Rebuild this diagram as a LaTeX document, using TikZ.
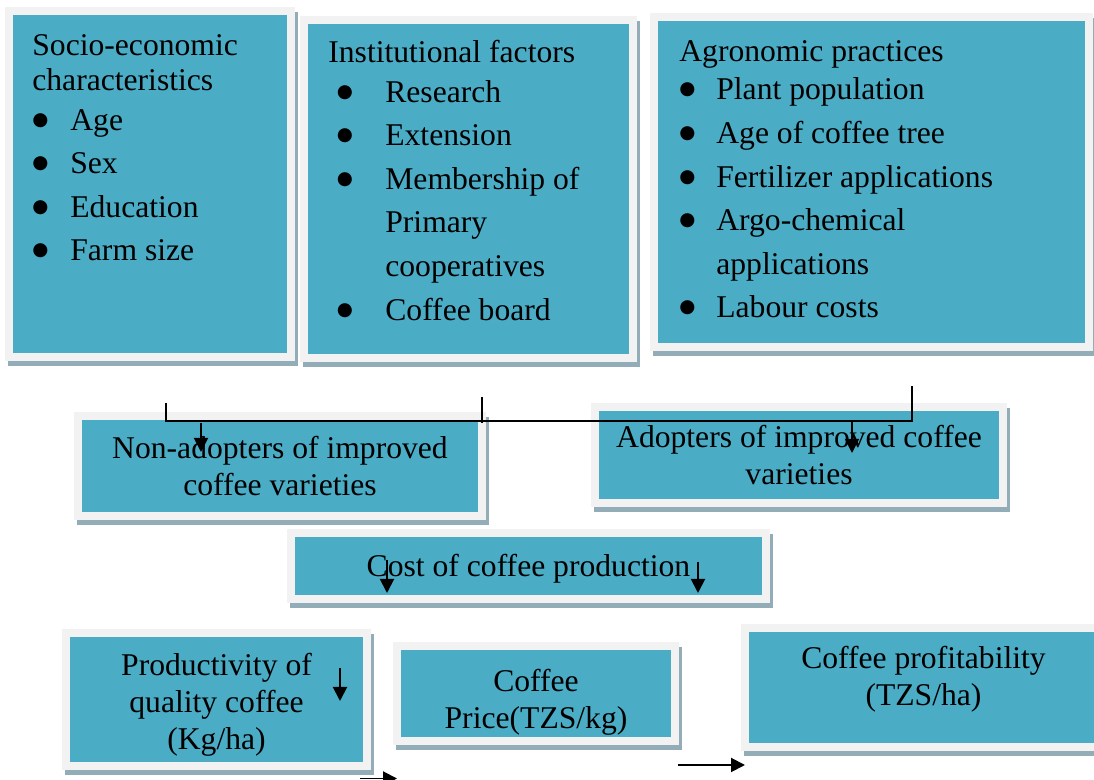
\documentclass[tikz,border=0pt]{standalone}
\usepackage{fontspec}
\setmainfont{Liberation Serif}
\newfontfamily\simboli{DejaVu Sans}
\usetikzlibrary{arrows.meta, shadows}

\definecolor{acqua}{HTML}{4BACC6}
\definecolor{cornice}{HTML}{F2F2F2}
\definecolor{ombra}{HTML}{93ADB8}

% pallino pieno delle voci
\newcommand{\pallino}{\raisebox{0.1cm}{\simboli\fontsize{10.5}{10.5}\selectfont ●}}
% voce di elenco: [scarto del pallino]{rientro}{testo}
\newcommand{\voce}[3][0cm]{\makebox[#2][l]{\hspace*{#1}\pallino}#3}

\begin{document}
\begin{tikzpicture}[
  font=\fontsize{18}{21}\selectfont,
  riquadro/.style={fill=acqua, draw=cornice, line width=0.16cm, align=center,
                   inner sep=2pt,
                   general shadow={fill=ombra, draw=ombra, line width=0.16cm,
                                   shadow xshift=0.06cm, shadow yshift=-0.1cm}},
  elenco/.style={anchor=north west, align=left, inner sep=0pt,
                 font=\fontsize{18}{24.8}\selectfont},
  collegamento/.style={draw=black, line width=1.1pt},
  freccia/.style={collegamento, -{Triangle[length=0.28cm, width=0.28cm]}}
]

% area della figura, fissata a mano
\useasboundingbox (0,0) rectangle (21.88,15.60);

% ---- riquadri in alto: gruppi di fattori ---------------------------
\node[riquadro, minimum width=5.64cm, minimum height=6.92cm] (socio)  at (3.00,11.92) {};
\node[riquadro, minimum width=6.58cm, minimum height=6.76cm] (istituz) at (9.37,11.82) {};
\node[riquadro, minimum width=8.70cm, minimum height=6.60cm] (agronom) at (17.43,11.96) {};

\node[elenco] (socio-testo) at (0.64,14.91)
  {Socio-economic\\[-5pt] characteristics\\[-2.3pt]
   \voce{0.76cm}{Age}\\ \voce{0.76cm}{Sex}\\
   \voce{0.76cm}{Education}\\ \voce{0.76cm}{Farm size}};
\node[elenco] (istituz-testo) at (6.56,14.80)
  {Institutional factors\\[-2.3pt]
   \voce[0.17cm]{1.14cm}{Research}\\ \voce[0.17cm]{1.14cm}{Extension}\\
   \voce[0.17cm]{1.14cm}{Membership of}\\ \hspace*{1.14cm}Primary\\
   \hspace*{1.14cm}cooperatives\\ \voce[0.17cm]{1.14cm}{Coffee board}};
\node[elenco] (agronom-testo) at (13.58,14.80)
  {Agronomic practices\\[-2.8pt]
   \voce{0.74cm}{Plant population}\\ \voce{0.74cm}{Age of coffee tree}\\
   \voce{0.74cm}{Fertilizer applications}\\ \voce{0.74cm}{Argo-chemical}\\
   \hspace*{0.74cm}applications\\ \voce{0.74cm}{Labour costs}};

% ---- riquadri centrali ----------------------------------------------
\node[riquadro, minimum width=8.08cm, minimum height=2.00cm] (nonadottanti) at (5.60,6.28)
  {Non-adopters of improved\\ coffee varieties};
\node[riquadro, minimum width=8.16cm, minimum height=1.92cm] (adottanti) at (15.98,6.50)
  {Adopters of improved coffee\\ varieties};
\node[riquadro, minimum width=9.50cm, minimum height=1.32cm] (costo) at (10.57,4.28)
  {\rule{0pt}{0.55cm}Cost of coffee production};

% ---- riquadri in basso: risultati -----------------------------------
\node[riquadro, minimum width=6.02cm, minimum height=2.66cm] (produttivita) at (4.33,1.61)
  {\rule{0pt}{0.65cm}Productivity of\\ quality coffee\\ (Kg/ha)};
\node[riquadro, minimum width=5.56cm, minimum height=1.90cm] (prezzo) at (10.72,1.73)
  {\rule{0pt}{0.80cm}Coffee\\ Price(TZS/kg)};
\node[riquadro, minimum width=7.14cm, minimum height=2.38cm] (redditivita) at (18.47,1.85)
  {Coffee profitability\\ (TZS/ha)\rule[-0.45cm]{0pt}{0pt}};

% ---- punti di aggancio dei collegamenti -----------------------------
\coordinate (attacco-socio)   at (3.32,7.54);
\coordinate (attacco-istituz) at (9.64,7.66);
\coordinate (attacco-agronom) at (18.24,7.88);
\coordinate (giunto-sx)       at (3.32,7.18);
\coordinate (giunto-dx)       at (18.24,7.18);
\coordinate (giunto-centro)   at (9.64,7.14);

\coordinate (da-nonadottanti) at (4.02,7.14);
\coordinate (a-nonadottanti)  at (4.02,6.56);
\coordinate (da-adottanti)    at (17.04,7.18);
\coordinate (a-adottanti)     at (17.04,6.54);
\coordinate (costo-sx-da)     at (7.74,4.40);
\coordinate (costo-sx-a)      at (7.74,3.74);
\coordinate (costo-dx-da)     at (13.96,4.36);
\coordinate (costo-dx-a)      at (13.96,3.74);
\coordinate (produtt-da)      at (6.80,2.24);
\coordinate (produtt-a)       at (6.80,1.58);
\coordinate (basso-sx-da)     at (7.20,0.03);
\coordinate (basso-sx-a)      at (7.94,0.03);
\coordinate (basso-dx-da)     at (13.56,0.30);
\coordinate (basso-dx-a)      at (14.90,0.30);

% ---- collegamenti -----------------------------------------------------
% linea di raccolta sotto i tre gruppi
\draw[collegamento] (attacco-socio) -- (giunto-sx) -- (giunto-dx) -- (attacco-agronom);
\draw[collegamento] (attacco-istituz) -- (giunto-centro);

\draw[freccia] (da-nonadottanti) -- (a-nonadottanti);
\draw[freccia] (da-adottanti) -- (a-adottanti);
\draw[freccia] (costo-sx-da) -- (costo-sx-a);
\draw[freccia] (costo-dx-da) -- (costo-dx-a);
\draw[freccia] (produtt-da) -- (produtt-a);
\draw[freccia] (basso-sx-da) -- (basso-sx-a);
\draw[freccia] (basso-dx-da) -- (basso-dx-a);

\end{tikzpicture}
\end{document}
